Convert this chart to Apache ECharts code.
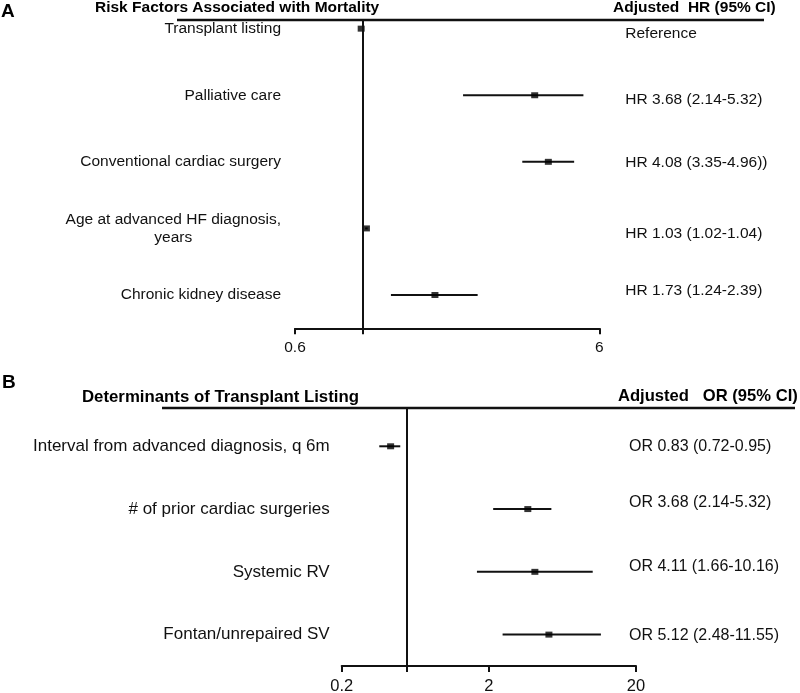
<!DOCTYPE html>
<html><head><meta charset="utf-8">
<script src="https://cdn.jsdelivr.net/npm/echarts@6/dist/echarts.min.js"></script>
<style>html,body{margin:0;padding:0;background:#fff}#c{width:800px;height:693px}</style>
</head><body><div id="c"></div>
<script>
// ---- Panel A data ----
var categoriesA = ['Transplant listing', 'Palliative care', 'Conventional cardiac surgery', 'Age at advanced HF diagnosis,\nyears', 'Chronic kidney disease'];
var hrA = [0.99, 3.68, 4.08, 1.03, 1.73];
var hrLowA = [null, 2.14, 3.35, 1.02, 1.24];
var hrHighA = [null, 5.32, 4.96, 1.04, 2.39];
var hrTextA = ['Reference', 'HR 3.68 (2.14-5.32)', 'HR 4.08 (3.35-4.96))', 'HR 1.03 (1.02-1.04)', 'HR 1.73 (1.24-2.39)'];
var refA = 1;
var tickLabelsA = [0.6, 6];

// ---- Panel B data ----
var categoriesB = ['Interval from advanced diagnosis, q 6m', '# of prior cardiac surgeries', 'Systemic RV', 'Fontan/unrepaired SV'];
var orB = [0.43, 3.68, 4.11, 5.12];
var orLowB = [0.36, 2.14, 1.66, 2.48];
var orHighB = [0.50, 5.32, 10.16, 11.55];
var orTextB = ['OR 0.83 (0.72-0.95)', 'OR 3.68 (2.14-5.32)', 'OR 4.11 (1.66-10.16)', 'OR 5.12 (2.48-11.55)'];
var refB = 0.55;
var tickLabelsB = [0.2, 2, 20];

var FONT = "'Liberation Sans', Arial, Helvetica, sans-serif";
var INK = '#111';

// layout
var nA = categoriesA.length, nB = categoriesB.length;
var maxA = 4.63, maxB = 4.11;
var pxA = 66.6, pxB = 62.8;
var rightShiftA = [5, 4, 1, 5, -4];
var rightShiftB = [0, -6, -5, 1];
function rowPos(n, i) { return n - 0.5 - i; }
function idxOf(n, v) { return Math.round(n - 0.5 - v); }

function ciData(lo, hi, n) {
  var out = [];
  lo.forEach(function (l, i) { if (l != null) out.push([l, hi[i], rowPos(n, i)]); });
  return out;
}
function ptData(vals, n) { return vals.map(function (v, i) { return [v, rowPos(n, i)]; }); }

function ciSeries(xi, yi, data) {
  return {
    type: 'custom', xAxisIndex: xi, yAxisIndex: yi, data: data, silent: true,
    encode: { x: [0, 1], y: 2 },
    renderItem: function (params, api) {
      var p1 = api.coord([api.value(0), api.value(2)]);
      var p2 = api.coord([api.value(1), api.value(2)]);
      return { type: 'line', shape: { x1: p1[0], y1: p1[1], x2: p2[0], y2: p2[1] },
        style: { stroke: INK, lineWidth: 2 } };
    }
  };
}
function ptSeries(xi, yi, data, ref) {
  return {
    type: 'scatter', xAxisIndex: xi, yAxisIndex: yi, data: data, silent: true,
    symbol: 'rect', symbolSize: [7, 6], itemStyle: { color: '#000' },
    markLine: { silent: true, symbol: 'none', label: { show: false },
      lineStyle: { color: INK, width: 2, type: 'solid' }, data: [{ xAxis: ref }] }
  };
}

function xAxisDef(gi, min, max, labels, ref, fs, mg) {
  return {
    type: 'log', logBase: 10, gridIndex: gi, min: min, max: max,
    axisLine: { show: true, lineStyle: { color: INK, width: 2 } },
    axisTick: { show: true, length: 6, lineStyle: { color: INK, width: 2 }, customValues: labels.concat([ref]) },
    axisLabel: { customValues: labels, color: INK, fontSize: fs, fontFamily: FONT, margin: mg,
      formatter: function (v) { return String(Math.round(v * 10) / 10); } },
    splitLine: { show: false }, minorTick: { show: false }
  };
}

var option = {
  animation: false,
  backgroundColor: '#fff',
  grid: [
    { left: 295, right: 200.7, top: 20, height: 308.3, containLabel: false, outerBoundsMode: 'none' },
    { left: 341.7, right: 164, top: 408, height: 258, containLabel: false, outerBoundsMode: 'none' }
  ],
  xAxis: [
    xAxisDef(0, tickLabelsA[0], tickLabelsA[tickLabelsA.length - 1], tickLabelsA, refA, 15.5, 11),
    xAxisDef(1, tickLabelsB[0], tickLabelsB[tickLabelsB.length - 1], tickLabelsB, refB, 16.5, 12)
  ],
  yAxis: [
    { type: 'value', gridIndex: 0, min: 0, max: maxA, position: 'left',
      axisLine: { show: false }, axisTick: { show: false }, splitLine: { show: false },
      axisLabel: { customValues: categoriesA.map(function (c, i) { return rowPos(nA, i); }), margin: 14,
        color: INK, fontSize: 15.5, fontFamily: FONT, lineHeight: 18,
        formatter: function (v) {
          var s = categoriesA[idxOf(nA, v)] || '';
          if (s.indexOf('\n') >= 0) {
            var parts = s.split('\n');
            return '{a|' + parts[0] + '}\n{b|' + parts[1] + '}';
          }
          return s;
        },
        rich: { a: { fontSize: 15.5, fontFamily: FONT, color: INK, lineHeight: 18 },
                b: { fontSize: 15.5, fontFamily: FONT, color: INK, lineHeight: 18, align: 'center' } } } },
    { type: 'value', gridIndex: 0, min: 0, max: maxA, position: 'right',
      axisLine: { show: false }, axisTick: { show: false }, splitLine: { show: false },
      axisLabel: { customValues: hrTextA.map(function (t, i) { return rowPos(nA, i) - rightShiftA[i] / pxA; }), margin: 26,
        color: INK, fontSize: 15.5, fontFamily: FONT, align: 'left',
        formatter: function (v) { return hrTextA[idxOf(nA, v)] || ''; } } },
    { type: 'value', gridIndex: 1, min: 0, max: maxB, position: 'left',
      axisLine: { show: false }, axisTick: { show: false }, splitLine: { show: false },
      axisLabel: { customValues: categoriesB.map(function (c, i) { return rowPos(nB, i); }), margin: 12,
        color: INK, fontSize: 17, fontFamily: FONT,
        formatter: function (v) { return categoriesB[idxOf(nB, v)] || ''; } } },
    { type: 'value', gridIndex: 1, min: 0, max: maxB, position: 'right',
      axisLine: { show: false }, axisTick: { show: false }, splitLine: { show: false },
      axisLabel: { customValues: orTextB.map(function (t, i) { return rowPos(nB, i) - rightShiftB[i] / pxB; }), margin: -7,
        color: INK, fontSize: 16, fontFamily: FONT, align: 'left',
        formatter: function (v) { return orTextB[idxOf(nB, v)] || ''; } } }
  ],
  series: [
    ciSeries(0, 0, ciData(hrLowA, hrHighA, nA)),
    ptSeries(0, 0, ptData(hrA, nA), refA),
    ciSeries(1, 2, ciData(orLowB, orHighB, nB)),
    ptSeries(1, 2, ptData(orB, nB), refB)
  ],
  graphic: [
    { type: 'text', left: 1, top: 2, style: { text: 'A', font: 'bold 19px ' + FONT, fill: '#000' } },
    { type: 'text', x: 95, y: 8, style: { text: 'Risk Factors Associated with Mortality', font: 'bold 15.5px ' + FONT, fill: '#000', verticalAlign: 'middle' } },
    { type: 'text', x: 613, y: 8, style: { text: 'Adjusted  HR (95% CI)', font: 'bold 15.5px ' + FONT, fill: '#000', verticalAlign: 'middle' } },
    { type: 'line', shape: { x1: 177, y1: 20, x2: 764, y2: 20 }, style: { stroke: '#111', lineWidth: 2.5 } },
    { type: 'text', left: 2, top: 373, style: { text: 'B', font: 'bold 19px ' + FONT, fill: '#000' } },
    { type: 'text', x: 82, y: 397, style: { text: 'Determinants of Transplant Listing', font: 'bold 16.8px ' + FONT, fill: '#000', verticalAlign: 'middle' } },
    { type: 'text', x: 618, y: 396, style: { text: 'Adjusted   OR (95% CI)', font: 'bold 16.6px ' + FONT, fill: '#000', verticalAlign: 'middle' } },
    { type: 'line', shape: { x1: 162, y1: 408, x2: 795, y2: 408 }, style: { stroke: '#111', lineWidth: 2.5 } }
  ]
};
var chart = echarts.init(document.getElementById('c'), null, { renderer: 'canvas' });
window.chart = chart;
try {
  chart.setOption(option);
} catch (e) {
  console.error('setOption failed: ' + e.message + ' ' + (e.stack || ''));
}
</script>
</body></html>
